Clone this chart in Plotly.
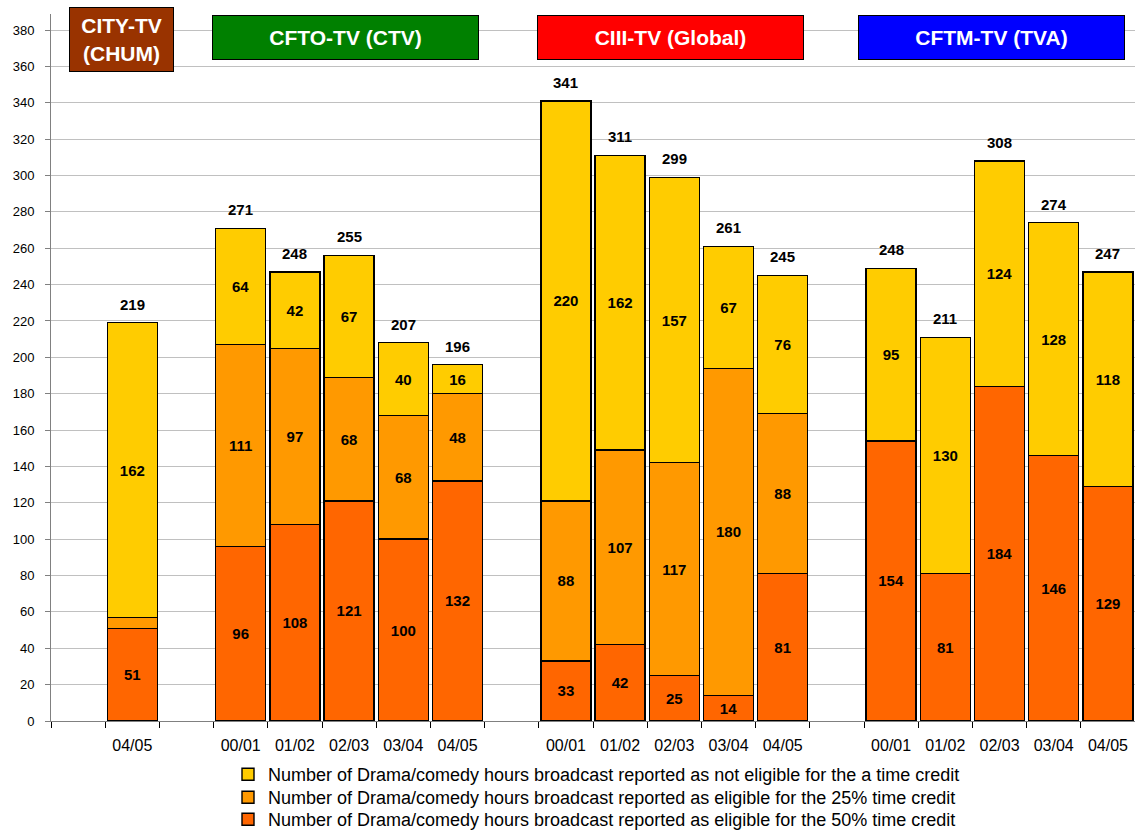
import plotly.graph_objects as go

# ---------------- data ----------------
group_names = ["CITY-TV<br>(CHUM)", "CFTO-TV (CTV)", "CIII-TV (Global)", "CFTM-TV (TVA)"]
group_colors = ["#993300", "#008000", "#FF0000", "#0000FF"]
group_years = [
    ["04/05"],
    ["00/01", "01/02", "02/03", "03/04", "04/05"],
    ["00/01", "01/02", "02/03", "03/04", "04/05"],
    ["00/01", "01/02", "02/03", "03/04", "04/05"],
]
credit50 = [51, 96, 108, 121, 100, 132, 33, 42, 25, 14, 81, 154, 81, 184, 146, 129]
credit25 = [6, 111, 97, 68, 68, 48, 88, 107, 117, 180, 88, 0, 0, 0, 0, 0]
not_eligible = [162, 64, 42, 67, 40, 16, 220, 162, 157, 67, 76, 95, 130, 124, 128, 118]
total_labels = [219, 271, 248, 255, 207, 196, 341, 311, 299, 261, 245, 248, 211, 308, 274, 247]

series_names = [
    "Number of Drama/comedy hours broadcast reported as eligible for the 50% time credit",
    "Number of Drama/comedy hours broadcast reported as eligible for the 25% time credit",
    "Number of Drama/comedy hours broadcast reported as not eligible for the a time credit",
]
series_colors = ["#FF6600", "#FF9900", "#FFCC00"]

# ---------------- build category axis (with empty gap slots) ----------------
all_keys, all_text = [], []
bar_keys = []
for gi, years in enumerate(group_years):
    all_keys.append(f"gap{gi}")
    all_text.append("")
    for y in years:
        k = f"g{gi}-{y}"
        all_keys.append(k)
        all_text.append(y)
        bar_keys.append(k)

FONT = "Liberation Sans, Arial, sans-serif"
fig = go.Figure()

# invisible trace to register every slot on the category axis
fig.add_trace(go.Scatter(x=all_keys, y=[None] * len(all_keys), mode="markers",
                         showlegend=False, hoverinfo="skip"))

legend_ids = ["legend3", "legend2", "legend"]  # bottom, middle, top entries
for vals, name, col, lg in zip([credit50, credit25, not_eligible], series_names,
                               series_colors, legend_ids):
    fig.add_trace(go.Bar(
        x=bar_keys, y=vals, name=name, legend=lg,
        marker=dict(color=col, line=dict(color="black", width=1.4)),
        text=[str(v) if v >= 10 else "" for v in vals],
        textposition="inside", insidetextanchor="middle",
        textfont=dict(family=FONT, size=15, color="black", weight="bold"),
        constraintext="none", textangle=0,
    ))

# totals above bars
for k, a, b, c, t in zip(bar_keys, credit50, credit25, not_eligible, total_labels):
    fig.add_annotation(x=k, y=a + b + c, text=f"<b>{t}</b>", showarrow=False,
                       yanchor="bottom", yshift=8,
                       font=dict(family=FONT, size=15, color="black"))

# group title boxes (pixel geometry -> paper coords)
PL, PW, PB, PH = 51, 1084, 721, 707
boxes = [(69, 174, 7, 72), (212, 479, 15, 60), (537, 804, 15, 60), (858, 1125, 15, 60)]
for name, col, (x0, x1, y0, y1) in zip(group_names, group_colors, boxes):
    fig.add_annotation(
        xref="paper", yref="paper",
        x=((x0 + x1) / 2 - PL) / PW, y=(PB - (y0 + y1) / 2) / PH,
        xanchor="center", yanchor="middle",
        text=f"<b>{name}</b>", showarrow=False,
        width=x1 - x0 - 2, height=y1 - y0 - 2, borderpad=0,
        bgcolor=col, bordercolor="black", borderwidth=1,
        font=dict(family=FONT, size=21, color="white"),
    )

def legend_at(center_py):
    return dict(
        orientation="v", x=(228 - PL) / PW, xanchor="left",
        y=(PB - (center_py - 17)) / PH, yanchor="top",
        font=dict(family=FONT, size=18, color="black"),
        itemwidth=30, bgcolor="rgba(0,0,0,0)", borderwidth=0,
    )

fig.update_layout(
    width=1135, height=830,
    margin=dict(l=51, r=0, t=14, b=109, autoexpand=False),
    paper_bgcolor="white", plot_bgcolor="white",
    barmode="stack", bargap=0.075,
    font=dict(family=FONT, size=13, color="black"),
    legend=legend_at(773),
    legend2=legend_at(796),
    legend3=legend_at(818),
    showlegend=True,
)
fig.update_xaxes(
    type="category", categoryorder="array", categoryarray=all_keys,
    tickvals=all_keys, ticktext=all_text,
    tickson="boundaries", ticks="outside", ticklen=6, tickcolor="#000000",
    showline=True, linecolor="#808080", linewidth=1,
    showgrid=False, range=[-0.5, len(all_keys) - 0.5],
    tickfont=dict(family=FONT, size=16, color="black"),
    ticklabelstandoff=10,
)
fig.update_yaxes(
    range=[0, 388.8], dtick=20, tick0=0,
    showgrid=True, gridcolor="#C0C0C0", gridwidth=1,
    ticks="outside", ticklen=5, tickcolor="#808080",
    showline=True, linecolor="#808080", linewidth=1,
    zeroline=False,
    tickfont=dict(family=FONT, size=13, color="black"),
    ticklabelstandoff=8,
)

fig.write_html("out.html", post_script="document.body.style.margin='0';",
               config={"displayModeBar": False})
